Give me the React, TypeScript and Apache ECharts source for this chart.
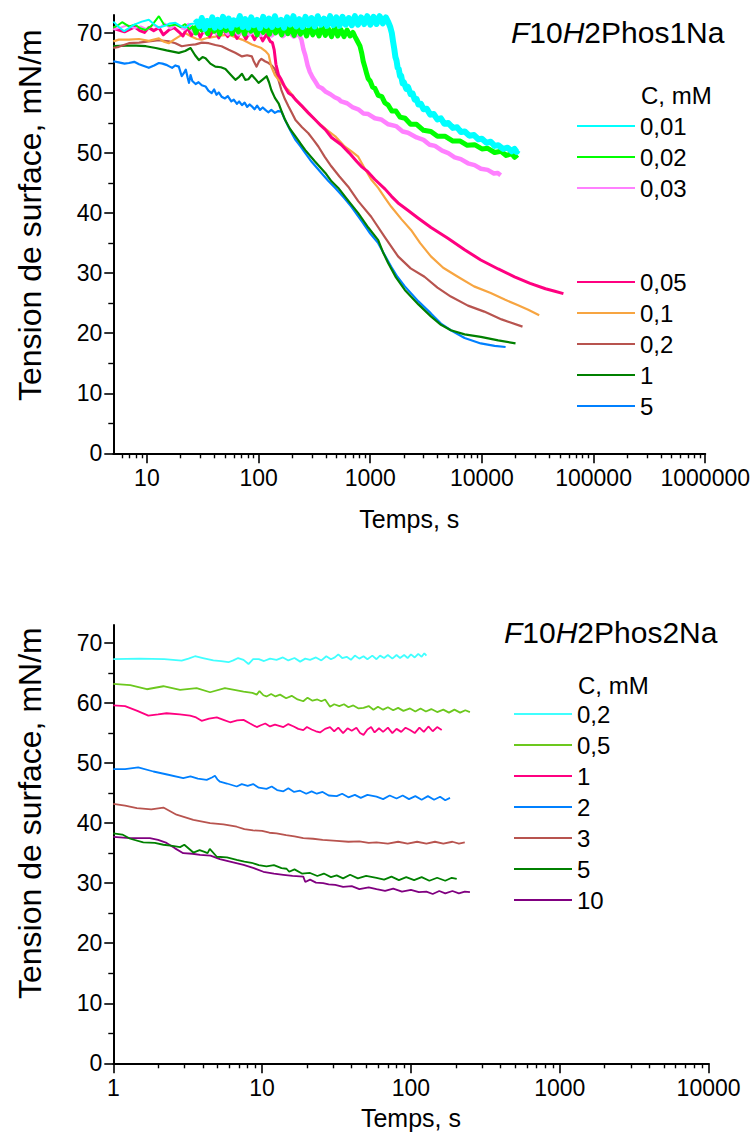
import React, { useEffect, useRef } from 'react';
import * as echarts from 'echarts';

const FONT = '"Liberation Sans", Arial, Helvetica, sans-serif';

// ---------- Top chart: F10H2Phos1Na ----------
const topLabels = ['0,01', '0,02', '0,03', '0,05', '0,1', '0,2', '1', '5'];
const topColors = ['#00FFFF', '#00FF00', '#FF80FF', '#FF0080', '#F7A541', '#B8544F', '#008000', '#0080FF'];
const topWidths = [6, 5, 4.5, 3, 2.2, 2.2, 2.2, 2.2];

// early (thin) parts of the three noisiest curves
const p1c001e = [[5,71.9],[5.6,71.0],[6.25,70.3],[7,70.9],[7.7,71.4],[9,71.9],[10.4,72.2],[11.5,71.5],[12.8,70.9],[14.5,71.2],[16,71.6],[18,71.7],[20,71.2],[22,70.9],[24.5,71.5],[27,71.6]];
const p1c002e = [[5,70.9],[5.5,71.3],[6,71.8],[6.9,71.1],[7.8,71.4],[8.7,70.8],[9.7,70.5],[11,71.2],[12.8,72.8],[14.2,71.4],[16,71.2],[18,71.4],[20,71.0],[22,71.5],[24,70.6],[26,71.2]];
const p1c003e = [[5,70.6],[5.8,70.9],[6.7,71.3],[7.7,70.8],[8.8,71.1],[10,70.6],[11.3,71.4],[12.8,70.8],[14.5,71.6],[16.3,70.7],[18.5,71.5],[21,70.6]];
const topEarly: (number[][] | null)[] = [p1c001e, p1c002e, p1c003e, null, null, null, null, null];

const p1c001 = [[27,71.6],[28,71.9],[29.5,71.1],[31,72.5],[33,70.7],[34.5,72.0],[36.5,71.3],[38.5,72.6],[40.5,70.9],[43,72.2],[45.5,71.0],[48,72.7],[51,71.2],[54,72.4],[57,70.8],[60,72.1],[64,71.4],[68,72.8],[72,71.0],[76,72.3],[81,70.9],[86,72.6],[91,71.3],[97,72.2],[103,70.8],[110,72.7],[117,71.2],[124,72.4],[132,71.0],[140,72.8],[149,71.3],[159,72.2],[169,70.9],[180,72.6],[192,71.4],[205,72.8],[218,71.1],[232,72.3],[247,71.0],[263,72.7],[280,71.3],[298,72.5],[318,71.1],[339,72.8],[361,71.4],[385,72.4],[410,71.2],[437,72.8],[466,71.3],[497,72.6],[530,71.2],[565,72.7],[602,71.4],[642,72.5],[684,71.3],[729,72.8],[777,71.4],[828,72.6],[883,71.5],[941,72.8],[1003,71.4],[1070,72.7],[1140,71.5],[1215,72.8],[1295,71.6],[1380,72.6],[1450,71.8],[1510,71.0],[1560,70.0],[1600,68.6],[1640,67.4],[1680,66.0],[1720,65.4],[1760,64.2],[1800,64.0],[1850,62.8],[1890,62.9],[1950,61.6],[2000,61.8],[2100,60.7],[2180,61.0],[2300,59.8],[2400,59.9],[2500,58.9],[2600,59.0],[2700,58.1],[2845,58.2],[3000,57.3],[3200,57.4],[3450,56.4],[3700,56.5],[4000,55.6],[4290,55.8],[4600,54.9],[5000,55.0],[5500,54.2],[6000,54.3],[6500,53.5],[7030,53.6],[7700,52.9],[8500,53.0],[9300,52.3],[10000,52.4],[11000,51.7],[12000,51.9],[13000,51.2],[14000,51.3],[15500,50.7],[17000,50.9],[18500,50.3],[19600,50.7],[20500,50.2],[21000,50.5]];
const p1c002 = [[26,71.2],[27.5,70.0],[29,71.8],[31,70.5],[33,71.3],[35,69.9],[37.5,71.6],[40,70.3],[42.5,71.2],[45,69.8],[48,71.7],[51,70.4],[54.5,71.0],[58,69.9],[62,71.5],[66,70.2],[70,71.3],[75,69.8],[80,71.6],[85,70.3],[91,71.0],[97,69.7],[103,71.4],[110,70.1],[117,71.2],[125,69.8],[133,71.5],[142,70.0],[151,71.1],[161,69.7],[172,71.3],[183,69.9],[195,71.0],[208,69.6],[222,71.2],[237,69.8],[252,70.9],[269,69.5],[287,71.1],[306,69.7],[326,70.8],[348,69.5],[371,71.0],[396,69.6],[422,70.7],[450,69.4],[480,70.9],[512,69.5],[546,70.6],[582,69.4],[620,70.5],[660,69.5],[700,70.1],[730,69.4],[760,68.8],[810,67.8],[840,66.6],[865,65.3],[900,64.2],[930,63.2],[959,62.4],[1000,62.0],[1050,61.0],[1100,60.8],[1180,59.6],[1270,59.4],[1350,58.4],[1446,58.0],[1560,57.0],[1700,57.0],[1850,56.0],[2050,55.8],[2300,54.8],[2600,54.8],[3000,53.8],[3494,53.6],[4000,52.8],[4700,52.8],[5500,52.0],[6400,52.0],[7400,51.3],[8600,51.4],[10000,50.7],[11270,50.8],[13000,50.1],[14800,50.3],[16500,49.6],[18500,49.9],[19600,49.3],[20840,49.7]];
const p1c003 = [[21,70.6],[23.5,71.3],[26.5,70.2],[30,71.2],[33.5,70.1],[37.5,71.1],[42,70.0],[47,71.0],[53,69.9],[59,71.0],[66,69.8],[74,70.8],[83,69.8],[93,70.7],[104,69.7],[117,70.6],[131,69.6],[147,70.5],[165,69.5],[185,70.3],[207,69.4],[228,69.9],[242,68.9],[252,67.3],[262,66.3],[275,64.6],[288,63.5],[305,62.6],[320,62.0],[343,61.1],[370,60.8],[400,60.2],[440,59.8],[480,59.3],[520,59.0],[550,58.6],[620,58.3],[700,57.6],[780,57.3],[870,56.6],[960,56.5],[1100,55.8],[1251,55.6],[1450,54.8],[1700,54.5],[1950,53.6],[2180,53.4],[2600,52.6],[3000,52.2],[3400,51.4],[3800,51.2],[4400,50.4],[5000,50.0],[5700,49.3],[6475,49.0],[7500,48.3],[8600,48.0],[9800,47.4],[11270,47.2],[12800,46.6],[13800,46.7],[14730,46.3]];
const p1c005 = [[5,70.8],[5.6,70.5],[6.3,70.2],[7,70.6],[7.8,71.0],[8.6,70.4],[9.5,70.1],[10.4,70.9],[11.5,70.4],[12.8,70.9],[14,69.7],[15.7,70.5],[17.5,70.9],[19.3,70.2],[21,69.5],[23,70.9],[25,69.6],[27.5,70.8],[30,69.3],[33,70.7],[36.5,69.4],[40,70.8],[44,69.2],[48,70.6],[53,69.4],[58,70.7],[64,69.1],[70,70.4],[77,69.0],[84,70.3],[92,68.9],[100,70.1],[109,68.7],[118,69.8],[127,68.6],[133,68.4],[138,67.2],[143,64.8],[151,63.0],[160,62.2],[172,61.0],[185,60.0],[200,59.6],[214,58.9],[240,58.0],[279,56.7],[323,55.5],[360,54.6],[396,53.9],[450,52.6],[550,51.4],[650,50.0],[750,48.7],[830,47.8],[950,46.9],[1100,45.6],[1359,44.0],[1550,42.8],[1775,41.7],[2200,40.4],[2675,39.2],[3500,37.6],[4954,35.8],[7000,33.9],[9770,32.2],[14000,30.7],[19600,29.4],[27000,28.3],[37100,27.4],[45000,27.0],[53700,26.6]];
const p1c01 = [[5,68.6],[5.6,68.9],[6.9,68.9],[8.5,69.0],[10.4,68.7],[12.8,69.1],[14,68.6],[15.7,68.3],[17.5,68.9],[19.3,69.4],[22,70.0],[25,69.4],[28,69.0],[31,68.9],[35,69.2],[41,69.4],[47,69.6],[54,69.7],[62,69.3],[71,68.9],[79,68.5],[87,68.1],[96,67.8],[106,67.5],[115,67.0],[123,66.4],[130,64.4],[140,63.0],[151,62.2],[167,61.3],[185,60.5],[214,59.0],[242,57.8],[280,56.6],[323,55.5],[400,54.0],[486,52.8],[590,51.1],[680,50.3],[780,49.4],[900,47.3],[1020,45.6],[1178,44.2],[1359,42.5],[1537,41.1],[1900,39.0],[2317,37.2],[2800,35.0],[3494,32.8],[4500,30.9],[6085,29.4],[8500,27.8],[11990,26.7],[16000,25.6],[20840,24.7],[26000,23.9],[32600,23.0]];
const p1c02 = [[5,67.5],[5.6,67.7],[6.9,68.3],[8.5,68.4],[10.4,68.6],[12.8,68.8],[15.7,68.6],[18,68.3],[20.5,67.8],[24,68.0],[27.3,68.1],[31,68.4],[35.8,68.3],[41,68.0],[46.6,67.8],[54,67.2],[61.8,66.7],[71,66.1],[79,66.3],[87,66.1],[91,65.2],[96,64.4],[101,65.3],[106,65.7],[114,65.3],[123,65.0],[131,64.6],[140,64.0],[150,62.3],[160,60.5],[172,59.0],[185,57.8],[200,56.6],[214,55.5],[245,54.3],[279,53.3],[310,52.2],[343,51.1],[390,49.4],[448,47.8],[530,46.1],[635,44.4],[780,42.0],[1020,39.4],[1350,36.0],[1775,32.8],[2300,30.8],[3060,29.4],[4000,27.6],[5270,26.1],[7500,24.6],[10500,23.6],[15000,22.3],[23100,21.1]];
const p1c1 = [[5,67.8],[6.5,67.9],[8,67.9],[9.8,67.8],[12,67.5],[15,67.1],[19.3,66.7],[22,67.0],[24.6,67.5],[27,66.3],[29.2,65.5],[31.5,66.0],[33.5,65.8],[37,64.9],[41,64.4],[46,64.3],[50.5,64.0],[56,63.1],[62,62.2],[67,62.7],[71,63.2],[76,62.2],[81,62.3],[87,63.0],[93,62.4],[100,61.7],[108,62.2],[118,62.8],[124,61.8],[130,60.5],[140,59.2],[151,58.3],[162,56.8],[173,55.5],[190,54.1],[214,52.8],[237,51.6],[262,50.5],[320,48.6],[396,46.7],[450,45.3],[517,44.2],[640,42.0],[780,40.0],[960,37.6],[1178,35.5],[1300,33.5],[1446,31.7],[1700,29.3],[2040,27.2],[2700,24.8],[3494,22.8],[4300,21.4],[5270,20.5],[7000,19.8],[9770,19.4],[14000,18.8],[20000,18.3]];
const p1c5 = [[5,65.3],[5.6,65.1],[6.3,64.9],[6.9,65.0],[7.7,65.2],[8.5,64.8],[9.4,64.5],[10.4,64.2],[11.6,64.6],[12.8,65.0],[13.8,64.9],[14.9,64.7],[16,64.4],[16.8,64.2],[18,64.6],[19.3,64.4],[20.5,62.8],[21.4,63.3],[22.3,63.9],[23.2,62.5],[23.8,61.7],[24.6,63.0],[25.5,62.0],[27.3,61.5],[29,61.8],[31,61.3],[33.5,61.1],[35.5,60.4],[38,60.0],[40,60.6],[42,59.7],[44,60.1],[46.6,59.4],[50,59.1],[53,59.5],[57,58.6],[60,58.9],[64,58.2],[67,58.6],[71,58.0],[75,58.4],[79,57.7],[83,58.1],[87,57.8],[92,57.3],[97,57.9],[103,57.2],[109,57.6],[115,57.2],[122,56.8],[130,57.2],[140,56.7],[150,57.0],[160,56.9],[170,55.8],[185,54.4],[200,53.2],[214,52.2],[240,51.0],[262,50.0],[300,48.5],[365,46.7],[420,45.4],[486,44.2],[580,42.6],[676,41.1],[850,38.5],[1000,36.6],[1178,35.0],[1350,33.0],[1537,31.1],[1750,29.4],[2040,27.8],[2700,25.3],[3494,23.3],[4300,21.6],[5270,20.5],[7000,19.2],[9770,18.3],[13000,17.9],[16300,17.7]];
const topData = [p1c001, p1c002, p1c003, p1c005, p1c01, p1c02, p1c1, p1c5];

// ---------- Bottom chart: F10H2Phos2Na ----------
const botLabels = ['0,2', '0,5', '1', '2', '3', '5', '10'];
const botColors = ['#40FFFF', '#6CC81E', '#FF0080', '#0080FF', '#B8544F', '#008000', '#800080'];

const p2c02 = [[1,67.3],[1.5,67.4],[2.2,67.3],[2.88,67.05],[3.2,67.4],[3.54,67.8],[4.0,67.5],[4.7,67.1],[5.3,67.0],[5.94,66.8],[6.4,67.1],[6.9,67.5],[7.5,67.2],[8.1,66.5],[8.7,67.3],[9.5,67.3],[10.3,67.0],[11.3,67.4],[12.5,67.2],[13.8,67.6],[15,67.1],[16.5,67.5],[18,66.9],[19.5,67.4],[21,67.2],[23,67.6],[25,67.1],[27,67.8],[29,67.3],[30.8,67.6],[32.5,68.1],[34.5,67.5],[37,67.7],[39.5,67.2],[42,67.9],[45,67.4],[48,67.8],[51,67.3],[55,67.9],[58.7,67.3],[62,67.9],[66,67.5],[70,68.0],[75,67.4],[80,68.0],[84.5,67.5],[90,68.0],[95,67.5],[100,68.1],[106,67.6],[112,68.2],[118,67.7],[123,68.3],[127,67.9]];
const p2c05 = [[1,63.2],[1.3,63.0],[1.68,62.3],[2.17,62.8],[2.81,62.2],[3.63,62.5],[4.47,61.8],[5.62,62.5],[6.5,62.2],[7.5,61.9],[8.6,61.7],[9.2,61.4],[9.6,62.0],[10.2,61.3],[10.7,61.1],[11.5,61.5],[12.3,61.1],[13.2,61.4],[14.5,60.8],[15.8,61.2],[17.3,60.6],[18.9,60.3],[20.2,60.9],[21.8,60.4],[23.5,60.6],[25,60.3],[26.5,60.6],[28.6,59.4],[30.5,59.8],[33,59.5],[35.5,59.8],[38,59.3],[41,59.6],[44.5,59.1],[48,59.2],[52,59.5],[56,58.9],[60,59.4],[65,58.9],[70,59.3],[76,58.8],[82,59.2],[89,58.7],[98.6,59.1],[107,58.6],[116,59.1],[126,58.6],[137,59.0],[150,58.5],[165,58.9],[180,58.4],[196,58.9],[214,58.4],[232,58.8],[249,58.5]];
const p2c1 = [[1,59.6],[1.2,59.5],[1.45,58.7],[1.72,57.9],[2.0,58.1],[2.28,58.3],[2.8,58.1],[3.28,57.9],[3.6,57.6],[3.92,57.05],[4.4,57.4],[4.96,57.6],[5.5,57.2],[6.09,56.8],[6.8,57.1],[7.5,57.2],[8.3,56.6],[9.2,56.0],[9.8,56.3],[10.5,56.6],[11.3,56.1],[12.2,56.4],[13.9,56.0],[15,56.5],[16.3,56.1],[17.5,55.7],[18.9,55.5],[20,56.0],[21.5,55.6],[23,55.3],[24.5,55.1],[26.5,55.7],[28.6,56.0],[30.5,55.3],[32.5,55.9],[35,55.0],[37.5,55.8],[40,55.4],[43,55.9],[45.5,55.0],[48,54.7],[51,55.6],[54,56.0],[57,55.1],[61,55.8],[65,55.2],[70,55.9],[75,55.0],[80,55.7],[86,55.2],[92,55.9],[98.6,55.5],[106,55.0],[114,55.9],[122,55.2],[131,56.1],[140,55.3],[150,56.0],[161,55.5]];
const p2c2 = [[1,49.0],[1.2,49.0],[1.47,49.3],[1.86,48.6],[2.3,48.1],[2.95,47.5],[3.3,47.8],[3.7,47.4],[4.24,47.2],[4.6,47.6],[4.82,47.9],[5.0,47.3],[5.21,46.9],[5.8,46.6],[6.75,46.1],[7.3,46.5],[8,46.2],[8.7,46.5],[9.5,45.9],[10.7,45.7],[11.6,46.1],[12.6,45.5],[13.9,45.3],[15,45.8],[16.4,45.2],[18,45.4],[19.8,44.9],[21.5,45.3],[23.3,44.9],[25.5,45.2],[28,44.6],[31.7,44.5],[34.5,44.9],[38,44.3],[42,44.7],[46,44.2],[51,44.7],[58.7,44.4],[65,44.0],[72,44.6],[80,44.1],[88,44.6],[97,44.0],[107,44.5],[118,43.9],[130,44.5],[143,43.9],[157,44.4],[170,43.8],[183,44.2]];
const p2c3 = [[1,43.2],[1.2,42.9],[1.44,42.5],[1.8,42.3],[2.17,42.6],[2.66,41.4],[3.45,40.55],[4.47,40.0],[5.5,39.8],[6.75,39.4],[7.6,39.0],[8.7,38.8],[10,38.7],[11.2,38.4],[12.5,38.3],[14.5,38.0],[16.5,37.8],[18.9,37.5],[22,37.4],[25.5,37.2],[31.7,37.05],[38,36.9],[45,36.95],[52,36.7],[58.7,36.8],[70,36.6],[82,36.9],[95,36.6],[110,36.9],[127,36.6],[145,36.9],[165,36.6],[190,36.9],[210,36.6],[230,36.8]];
const p2c5 = [[1,38.3],[1.15,38.1],[1.3,37.4],[1.59,36.8],[1.9,36.7],[2.17,36.4],[2.5,36.2],[2.81,36.0],[3.0,36.4],[3.45,35.1],[3.8,35.5],[4.1,35.2],[4.3,35.0],[4.45,35.7],[4.96,34.4],[5.8,34.3],[6.75,33.9],[7.6,33.6],[8.5,33.4],[9.5,33.0],[10.7,32.8],[12,33.0],[13.5,32.5],[14.6,32.4],[15.2,31.9],[16.5,32.3],[18.5,31.6],[21,31.7],[23.5,31.2],[26,31.6],[29,31.0],[31.7,31.3],[35,30.8],[39,31.4],[44,30.8],[50,31.2],[58.7,30.9],[66,30.6],[74,31.1],[83,30.5],[93,31.0],[105,30.5],[118,31.0],[133,30.4],[150,30.9],[170,30.4],[188,30.9],[203,30.7]];
const p2c10 = [[1,37.7],[1.29,37.5],[1.76,37.5],[2.0,37.2],[2.28,36.7],[2.6,35.8],[2.95,35.0],[3.4,34.9],[3.83,34.7],[4.5,34.6],[5.2,34.0],[6.09,33.6],[7.5,33.05],[8.8,32.5],[10.2,31.9],[12,31.6],[13.9,31.4],[16,31.2],[18.9,31.1],[19.5,30.2],[21,30.6],[23,30.1],[25.7,30.0],[28,29.8],[31,29.7],[35,29.4],[40,29.5],[45,29.0],[52,29.3],[58.7,29.0],[67,28.7],[76,29.1],[87,28.6],[100,28.9],[113,28.5],[127,28.6],[140,28.2],[155,28.7],[170,28.3],[190,28.7],[210,28.3],[230,28.6],[249,28.5]];
const botData = [p2c02, p2c05, p2c1, p2c2, p2c3, p2c5, p2c10];

// ---------- Axis ticks ----------
const yMajor = [0, 10, 20, 30, 40, 50, 60, 70];
const yMinor = [5, 15, 25, 35, 45, 55, 65];
const topXMajor = [10, 100, 1000, 10000, 100000, 1000000];
const botXMajor = [1, 10, 100, 1000, 10000];
const topXMinor: number[] = [6, 7, 8, 9];
[10, 100, 1000, 10000, 100000].forEach((d) => { for (let m = 2; m <= 9; m++) topXMinor.push(m * d); });
const botXMinor: number[] = [];
[1, 10, 100, 1000].forEach((d) => { for (let m = 2; m <= 9; m++) botXMinor.push(m * d); });

const GRID_LEFT = 113.3;
const GRID_W = 595.3;
const GRID_H = 438.3;
const TOP1 = 15;
const TOP2 = 625;

const txt = { fontFamily: FONT, color: '#000', fontSize: 23 };

function mainX(gridIndex: number, min: number, max: number, major: number[], nameGap: number) {
  return {
    type: 'log', logBase: 10, gridIndex, position: 'bottom', min, max,
    name: 'Temps, s', nameLocation: 'middle', nameGap,
    nameTextStyle: { fontFamily: FONT, color: '#000', fontSize: 25 },
    axisLine: { show: true, lineStyle: { color: '#000', width: 2 } },
    axisTick: { show: true, length: 10, lineStyle: { color: '#000', width: 1.6 }, customValues: major },
    axisLabel: { show: true, margin: 13, ...txt, customValues: major, formatter: (v: number) => String(Math.round(v)) },
    splitLine: { show: false },
  };
}
function minorX(gridIndex: number, min: number, max: number, minor: number[]) {
  return {
    type: 'log', logBase: 10, gridIndex, position: 'bottom', min, max,
    axisLine: { show: false },
    axisTick: { show: true, length: 5, lineStyle: { color: '#000', width: 1.4 }, customValues: minor },
    axisLabel: { show: false },
    splitLine: { show: false },
  };
}
function mainY(gridIndex: number, padShift: number) {
  return {
    type: 'value', gridIndex, position: 'left', min: 0, max: 73,
    name: 'Tension de surface, mN/m', nameLocation: 'middle', nameGap: 67,
    nameTextStyle: { fontFamily: FONT, color: '#000', fontSize: 32, padding: [0, 0, 0, padShift] },
    axisLine: { show: true, lineStyle: { color: '#000', width: 2 } },
    axisTick: { show: true, length: 9, lineStyle: { color: '#000', width: 1.6 }, customValues: yMajor },
    axisLabel: { show: true, margin: 11, ...txt, customValues: yMajor },
    splitLine: { show: false },
  };
}
function minorY(gridIndex: number) {
  return {
    type: 'value', gridIndex, position: 'left', min: 0, max: 73,
    axisLine: { show: false },
    axisTick: { show: true, length: 5, lineStyle: { color: '#000', width: 1.4 }, customValues: yMinor },
    axisLabel: { show: false },
    splitLine: { show: false },
  };
}

export default function App() {
  const ref = useRef<HTMLDivElement>(null);
  useEffect(() => {
    if (!ref.current) return;
    const chart = echarts.init(ref.current, undefined, { renderer: 'svg' });

    const series: any[] = [];
    for (let i = topLabels.length - 1; i >= 0; i--) {
      const early = topEarly[i];
      if (early) {
        series.push({
          name: 'P1 ' + topLabels[i], type: 'line', xAxisIndex: 0, yAxisIndex: 0,
          data: early, symbol: 'none', showSymbol: false, color: topColors[i],
          lineStyle: { color: topColors[i], width: 2 },
        });
      }
      series.push({
        name: 'P1 ' + topLabels[i], type: 'line', xAxisIndex: 0, yAxisIndex: 0,
        data: topData[i], symbol: 'none', showSymbol: false, color: topColors[i],
        lineStyle: { color: topColors[i], width: topWidths[i], join: 'round' },
      });
    }
    for (let i = botLabels.length - 1; i >= 0; i--) {
      series.push({
        name: 'P2 ' + botLabels[i], type: 'line', xAxisIndex: 2, yAxisIndex: 2,
        data: botData[i], symbol: 'none', showSymbol: false, color: botColors[i],
        lineStyle: { color: botColors[i], width: 1.8 },
      });
    }

    const legendBase = {
      orient: 'vertical', icon: 'rect', itemWidth: 58, itemHeight: 2, itemGap: 7, padding: 0,
      selectedMode: false,
      textStyle: { fontFamily: FONT, color: '#000', fontSize: 24, lineHeight: 24 },
      formatter: (n: string) => n.slice(3),
    };

    const titleStyle = (size: number) => ({
      fontFamily: FONT, color: '#000', fontSize: size, fontWeight: 'normal',
      rich: { i: { fontFamily: FONT, color: '#000', fontSize: size, fontStyle: 'italic' } },
    });

    chart.setOption({
      animation: false,
      backgroundColor: '#fff',
      title: [
        { text: '{i|F}10{i|H}2Phos1Na', left: 511, top: 17, padding: 0, textStyle: titleStyle(30) },
        { text: '{i|F}10{i|H}2Phos2Na', left: 504, top: 617, padding: 0, textStyle: titleStyle(30) },
      ],
      grid: [
        { left: GRID_LEFT, top: TOP1, width: GRID_W, height: GRID_H },
        { left: GRID_LEFT, top: TOP2, width: GRID_W, height: GRID_H },
      ],
      xAxis: [
        mainX(0, 5, 1000000, topXMajor, 53),
        minorX(0, 5, 1000000, topXMinor),
        mainX(1, 1, 10000, botXMajor, 42),
        minorX(1, 1, 10000, botXMinor),
      ],
      yAxis: [mainY(0, 38), minorY(0), mainY(1, 62), minorY(1)],
      legend: [
        { ...legendBase, left: 577, top: 114, data: topLabels.slice(0, 3).map((l) => 'P1 ' + l) },
        { ...legendBase, left: 577, top: 270, data: topLabels.slice(3).map((l) => 'P1 ' + l) },
        { ...legendBase, left: 514, top: 702, data: botLabels.map((l) => 'P2 ' + l) },
      ],
      graphic: [
        { type: 'text', left: 641, top: 83, style: { text: 'C, mM', font: '24px "Liberation Sans", Arial, sans-serif', fill: '#000' } },
        { type: 'text', left: 578, top: 673, style: { text: 'C, mM', font: '24px "Liberation Sans", Arial, sans-serif', fill: '#000' } },
      ],
      series,
    });
    return () => chart.dispose();
  }, []);

  return (
    <div
      ref={ref}
      style={{ position: 'absolute', left: 0, top: 0, width: 753, height: 1137, background: '#fff' }}
    />
  );
}
